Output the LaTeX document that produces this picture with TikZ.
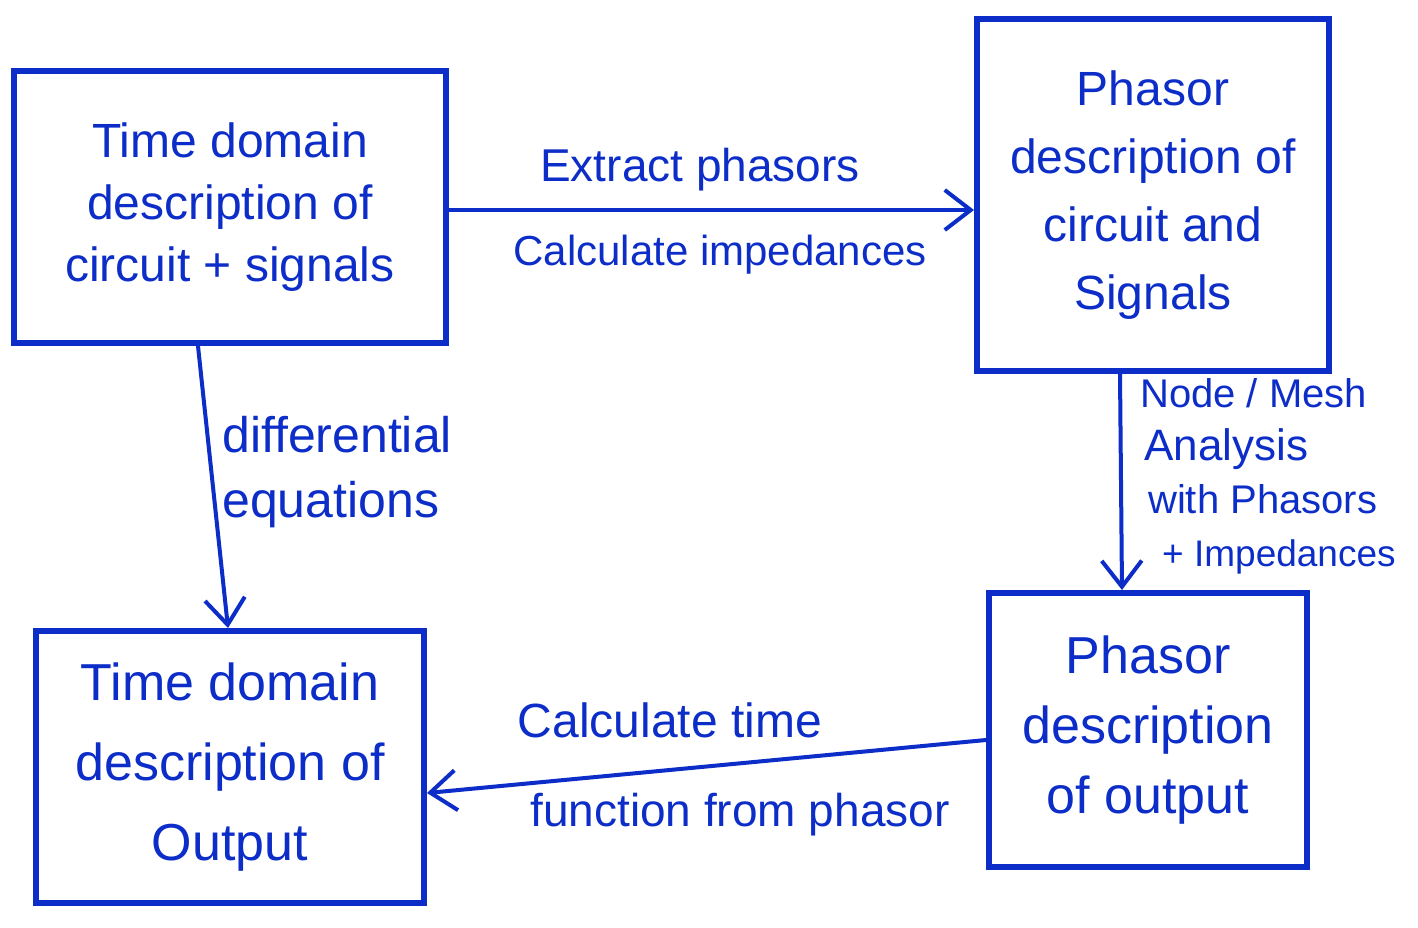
\documentclass[tikz,border=0pt]{standalone}
\usepackage{fontspec}
\setmainfont{Liberation Sans}
\usetikzlibrary{arrows.meta}
\definecolor{ink}{RGB}{12,45,200}
\begin{document}
\begin{tikzpicture}[x=1pt,y=-1pt,
  box/.style={draw=ink, line width=6pt, text=ink, align=center, inner sep=0pt},
  conn/.style={draw=ink, line width=4pt, -{Straight Barb[length=26pt,width=40pt,line width=4pt]}},
  lbl/.style={text=ink, inner sep=0pt}]
\useasboundingbox[fill=white] (0,0) rectangle (1418,928);
\node[box, minimum width=432pt, minimum height=272pt, font=\fontsize{48}{62}\selectfont] (tdin) at (230,207) {Time domain\\description of\\circuit + signals};
\node[box, minimum width=352pt, minimum height=352pt, font=\fontsize{48}{68}\selectfont] (phin) at (1153,195) {Phasor\\description of\\circuit and\\Signals};
\node[box, minimum width=388pt, minimum height=272pt, font=\fontsize{52}{80}\selectfont] (tdout) at (230,767) {Time domain\\description of\\Output};
\node[box, minimum width=318pt, minimum height=274pt, font=\fontsize{52}{70}\selectfont] (phout) at (1148,730) {Phasor\\description\\of output};
\draw[conn] ([yshift=-3pt]tdin.east) -- ([yshift=-3pt]tdin.east -| phin.west);
\draw[conn] ([xshift=-33pt]phin.south) -- ([xshift=-26pt]phout.north);
\draw[conn] ([xshift=-32pt]tdin.south) -- ([xshift=-2pt]tdout.north);
\draw[conn] ([yshift=-10pt]phout.west) -- ([yshift=-26pt]tdout.east);
\node[lbl, font=\fontsize{46}{50}\selectfont] (l1) at (700,170) {Extract phasors};
\node[lbl, font=\fontsize{42}{50}\selectfont] (l2) at (720,255) {Calculate impedances};
\node[lbl, font=\fontsize{50}{65}\selectfont, anchor=west, align=left] (l3) at (222,472) {differential\\equations};
\node[lbl, font=\fontsize{40}{53}\selectfont, anchor=west, align=left] (l4) at (1140,476) {Node / Mesh\\\hspace*{4pt}{\fontsize{44}{53}\selectfont Analysis}\\\hspace*{8pt}with Phasors\\\hspace*{22pt}{\fontsize{37}{53}\selectfont + Impedances}};
\node[lbl, font=\fontsize{48}{50}\selectfont] (l5) at (670,720) {Calculate time};
\node[lbl, font=\fontsize{46}{50}\selectfont] (l6) at (740,815) {function from phasor};
\end{tikzpicture}
\end{document}
